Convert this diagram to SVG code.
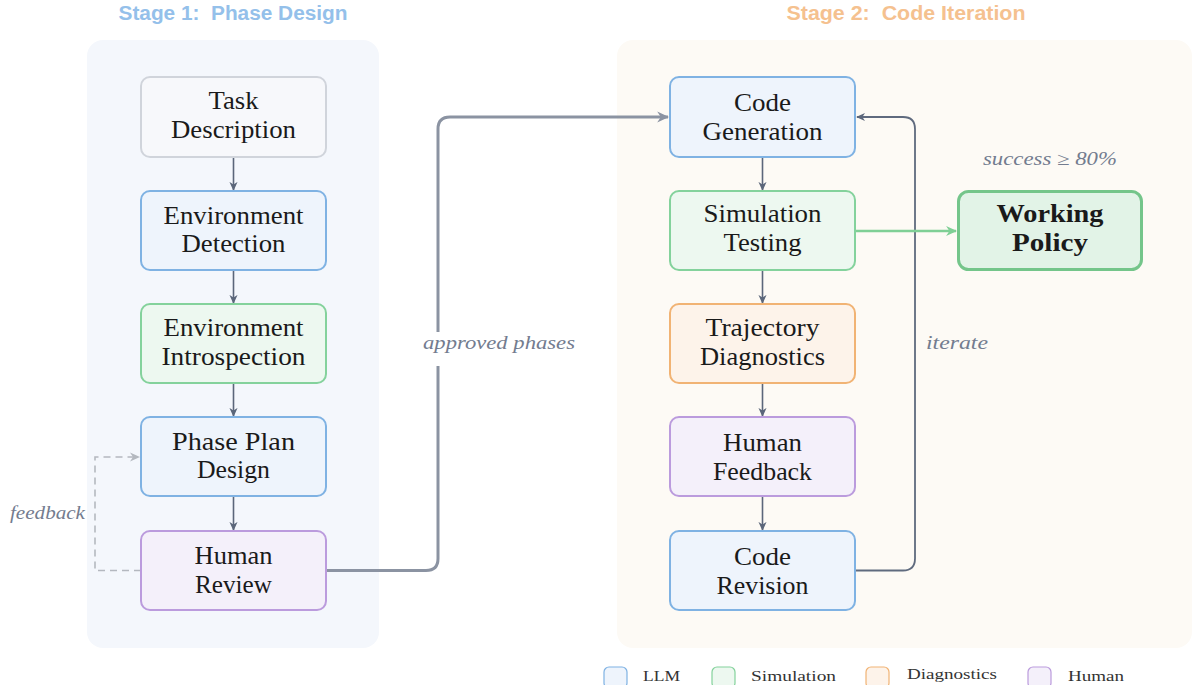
<svg xmlns="http://www.w3.org/2000/svg" width="1192" height="685" viewBox="0 0 1192 685">
  <style>
    .node-text { font-family: "Liberation Serif", "Times New Roman", serif; font-size: 25px; fill: #1a1a1a; text-anchor: middle; }
    .bold { font-weight: bold; }
    .title { font-family: "Liberation Sans", Arial, sans-serif; font-weight: bold; font-size: 20px; text-anchor: middle; }
    .lbl { font-family: "Liberation Serif", "Times New Roman", serif; font-style: italic; font-size: 18px; fill: #737c8f; }
    .leg { font-family: "Liberation Serif", "Times New Roman", serif; font-size: 14px; fill: #333333; }
    .box { stroke-width: 2; }
    .llm { fill: #eef4fc; stroke: #7fb2e3; }
    .sim { fill: #edf8f0; stroke: #84d29c; }
    .diag { fill: #fdf3ea; stroke: #f1b374; }
    .hum { fill: #f4f0fa; stroke: #bb9bdd; }
    .task { fill: #f7f8fb; stroke: #d0d4db; }
    .flow { fill: none; stroke: #5b667a; stroke-width: 1.6; }
  </style>
  <defs>
    <marker id="ah-dark" viewBox="0 0 10 10" refX="9" refY="5" markerWidth="9" markerHeight="9" markerUnits="userSpaceOnUse" orient="auto">
      <path d="M0,0.5 L10,5 L0,9.5 L3,5 z" fill="#5b667a"/>
    </marker>
    <marker id="ah-gray" viewBox="0 0 10 10" refX="9" refY="5" markerWidth="12" markerHeight="12" markerUnits="userSpaceOnUse" orient="auto">
      <path d="M0,0.5 L10,5 L0,9.5 L3,5 z" fill="#8b93a2"/>
    </marker>
    <marker id="ah-green" viewBox="0 0 10 10" refX="9" refY="5" markerWidth="11" markerHeight="11" markerUnits="userSpaceOnUse" orient="auto">
      <path d="M0,0.5 L10,5 L0,9.5 L3,5 z" fill="#7fcf95"/>
    </marker>
    <marker id="ah-light" viewBox="0 0 10 10" refX="9" refY="5" markerWidth="10" markerHeight="10" markerUnits="userSpaceOnUse" orient="auto">
      <path d="M0,0.5 L10,5 L0,9.5 L3,5 z" fill="#b4b8bf"/>
    </marker>
  </defs>

  <!-- stage panels -->
  <g id="stage1">
    <rect x="87" y="40" width="292" height="608" rx="16" fill="#f4f7fc"/>
    <text class="title" x="233" y="20" fill="#94c0ea" textLength="229" lengthAdjust="spacingAndGlyphs">Stage 1:&#160; Phase Design</text>
  </g>
  <g id="stage2">
    <rect x="617" y="40" width="575" height="608" rx="16" fill="#fdfaf5"/>
    <text class="title" x="906" y="20" fill="#f5c18f" textLength="239" lengthAdjust="spacingAndGlyphs">Stage 2:&#160; Code Iteration</text>
  </g>

  <!-- connectors -->
  <g id="connectors">
    <line class="flow" x1="233.5" y1="157" x2="233.5" y2="190" marker-end="url(#ah-dark)"/>
    <line class="flow" x1="233.5" y1="270" x2="233.5" y2="303" marker-end="url(#ah-dark)"/>
    <line class="flow" x1="233.5" y1="383" x2="233.5" y2="416" marker-end="url(#ah-dark)"/>
    <line class="flow" x1="233.5" y1="496" x2="233.5" y2="530" marker-end="url(#ah-dark)"/>

    <line class="flow" x1="762.5" y1="157" x2="762.5" y2="190" marker-end="url(#ah-dark)"/>
    <line class="flow" x1="762.5" y1="270" x2="762.5" y2="303" marker-end="url(#ah-dark)"/>
    <line class="flow" x1="762.5" y1="383" x2="762.5" y2="416" marker-end="url(#ah-dark)"/>
    <line class="flow" x1="762.5" y1="496" x2="762.5" y2="530" marker-end="url(#ah-dark)"/>

    <!-- approved phases hand-off -->
    <path d="M326,570.5 H426 Q438,570.5 438,558.5 V129 Q438,117 450,117 H668" fill="none" stroke="#8b93a2" stroke-width="3" marker-end="url(#ah-gray)"/>
    <rect x="420" y="332" width="158" height="34" fill="#ffffff"/>
    <text class="lbl" x="423" y="349" textLength="152" lengthAdjust="spacingAndGlyphs">approved phases</text>

    <!-- iterate loop -->
    <path d="M855,570.5 H903 Q915,570.5 915,558.5 V129 Q915,117 903,117 H857" fill="none" stroke="#5f6a7e" stroke-width="1.8" marker-end="url(#ah-dark)"/>
    <text class="lbl" x="926" y="349" textLength="62" lengthAdjust="spacingAndGlyphs">iterate</text>

    <!-- success path -->
    <line x1="855" y1="231" x2="956" y2="231" stroke="#7fcf95" stroke-width="2.5" marker-end="url(#ah-green)"/>
    <text class="lbl" x="983" y="165" textLength="134" lengthAdjust="spacingAndGlyphs">success ≥ 80%</text>

    <!-- feedback loop -->
    <path d="M141,570.5 H95 V457 H139" fill="none" stroke="#b4b8bf" stroke-width="1.6" stroke-dasharray="7,5" marker-end="url(#ah-light)"/>
    <text class="lbl" x="10" y="519" textLength="75" lengthAdjust="spacingAndGlyphs">feedback</text>
  </g>

  <!-- stage 1 nodes -->
  <g id="task-description">
    <rect class="box task" x="141" y="77" width="185" height="80" rx="9"/>
    <text class="node-text" x="233.5" y="109" textLength="50" lengthAdjust="spacingAndGlyphs">Task</text>
    <text class="node-text" x="233.5" y="138" textLength="125" lengthAdjust="spacingAndGlyphs">Description</text>
  </g>
  <g id="environment-detection">
    <rect class="box llm" x="141" y="191" width="185" height="79" rx="9"/>
    <text class="node-text" x="233.5" y="224" textLength="140" lengthAdjust="spacingAndGlyphs">Environment</text>
    <text class="node-text" x="233.5" y="252" textLength="104" lengthAdjust="spacingAndGlyphs">Detection</text>
  </g>
  <g id="environment-introspection">
    <rect class="box sim" x="141" y="304" width="185" height="79" rx="9"/>
    <text class="node-text" x="233.5" y="336" textLength="140" lengthAdjust="spacingAndGlyphs">Environment</text>
    <text class="node-text" x="233.5" y="365" textLength="144" lengthAdjust="spacingAndGlyphs">Introspection</text>
  </g>
  <g id="phase-plan-design">
    <rect class="box llm" x="141" y="417" width="185" height="79" rx="9"/>
    <text class="node-text" x="233.5" y="450" textLength="123" lengthAdjust="spacingAndGlyphs">Phase Plan</text>
    <text class="node-text" x="233.5" y="478" textLength="73" lengthAdjust="spacingAndGlyphs">Design</text>
  </g>
  <g id="human-review">
    <rect class="box hum" x="141" y="531" width="185" height="79" rx="9"/>
    <text class="node-text" x="233.5" y="564" textLength="78" lengthAdjust="spacingAndGlyphs">Human</text>
    <text class="node-text" x="233.5" y="593" textLength="77" lengthAdjust="spacingAndGlyphs">Review</text>
  </g>

  <!-- stage 2 nodes -->
  <g id="code-generation">
    <rect class="box llm" x="670" y="77" width="185" height="80" rx="9"/>
    <text class="node-text" x="762.5" y="111" textLength="57" lengthAdjust="spacingAndGlyphs">Code</text>
    <text class="node-text" x="762.5" y="140" textLength="120" lengthAdjust="spacingAndGlyphs">Generation</text>
  </g>
  <g id="simulation-testing">
    <rect class="box sim" x="670" y="191" width="185" height="79" rx="9"/>
    <text class="node-text" x="762.5" y="222" textLength="118" lengthAdjust="spacingAndGlyphs">Simulation</text>
    <text class="node-text" x="762.5" y="251" textLength="78" lengthAdjust="spacingAndGlyphs">Testing</text>
  </g>
  <g id="trajectory-diagnostics">
    <rect class="box diag" x="670" y="304" width="185" height="79" rx="9"/>
    <text class="node-text" x="762.5" y="336" textLength="114" lengthAdjust="spacingAndGlyphs">Trajectory</text>
    <text class="node-text" x="762.5" y="365" textLength="125" lengthAdjust="spacingAndGlyphs">Diagnostics</text>
  </g>
  <g id="human-feedback">
    <rect class="box hum" x="670" y="417" width="185" height="79" rx="9"/>
    <text class="node-text" x="762.5" y="451" textLength="79" lengthAdjust="spacingAndGlyphs">Human</text>
    <text class="node-text" x="762.5" y="480" textLength="99" lengthAdjust="spacingAndGlyphs">Feedback</text>
  </g>
  <g id="code-revision">
    <rect class="box llm" x="670" y="531" width="185" height="79" rx="9"/>
    <text class="node-text" x="762.5" y="565" textLength="57" lengthAdjust="spacingAndGlyphs">Code</text>
    <text class="node-text" x="762.5" y="594" textLength="92" lengthAdjust="spacingAndGlyphs">Revision</text>
  </g>
  <g id="working-policy">
    <rect x="958.5" y="191.5" width="183" height="78" rx="10" fill="#e2f3e7" stroke="#74c58a" stroke-width="3"/>
    <text class="node-text bold" x="1050" y="222" textLength="107" lengthAdjust="spacingAndGlyphs">Working</text>
    <text class="node-text bold" x="1050" y="251" textLength="76" lengthAdjust="spacingAndGlyphs">Policy</text>
  </g>

  <!-- legend -->
  <g id="legend">
    <rect class="llm" x="604" y="667" width="23" height="21" rx="5" stroke-width="1.2"/>
    <text class="leg" x="643" y="681" textLength="37" lengthAdjust="spacingAndGlyphs">LLM</text>
    <rect class="sim" x="712" y="667" width="23" height="21" rx="5" stroke-width="1.2"/>
    <text class="leg" x="751" y="681" textLength="85" lengthAdjust="spacingAndGlyphs">Simulation</text>
    <rect class="diag" x="866" y="667" width="23" height="21" rx="5" stroke-width="1.2"/>
    <text class="leg" x="907" y="679" textLength="90" lengthAdjust="spacingAndGlyphs">Diagnostics</text>
    <rect class="hum" x="1028" y="667" width="23" height="21" rx="5" stroke-width="1.2"/>
    <text class="leg" x="1068" y="681" textLength="56" lengthAdjust="spacingAndGlyphs">Human</text>
  </g>
</svg>
